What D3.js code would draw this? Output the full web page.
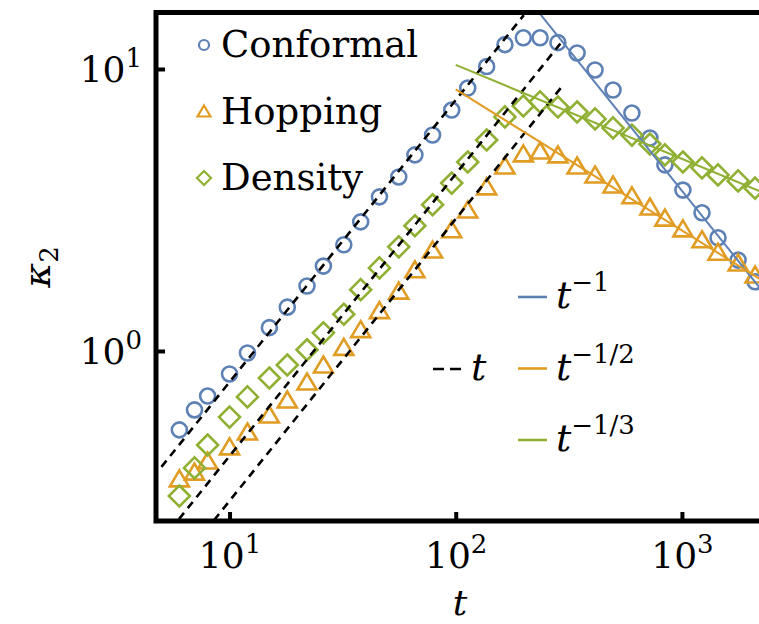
<!DOCTYPE html>
<html>
<head>
<meta charset="utf-8">
<script src="https://cdn.jsdelivr.net/npm/d3@7"></script>
<style>
  body { margin: 0; background: #fff; }
</style>
</head>
<body>
<svg width="759" height="624" font-family="DejaVu Serif"></svg>
<script>
var times = [6, 7, 8, 10, 12, 15, 18, 22, 26, 32, 38, 46, 56, 66, 79, 96, 113, 137, 165,
             199, 236, 283, 344, 413, 496, 601, 722, 841, 1010, 1227, 1444, 1772, 2106];

var conformal = [0.525, 0.618, 0.692, 0.829, 0.984, 1.21, 1.43, 1.70, 2.00, 2.38, 2.87, 3.52,
                 4.14, 4.96, 5.83, 7.15, 8.56, 10.2, 12.2, 12.9, 12.9, 12.4, 11.4, 9.92, 8.42,
                 6.98, 5.69, 4.57, 3.72, 3.09, 2.52, 2.10, 1.76];

var hopping = [0.352, 0.372, 0.407, 0.457, 0.516, 0.593, 0.670, 0.776, 0.892, 1.03, 1.19, 1.39,
               1.63, 1.94, 2.28, 2.69, 3.16, 3.82, 4.53, 5.00, 5.12, 4.96, 4.53, 4.21, 3.88,
               3.55, 3.24, 2.96, 2.71, 2.48, 2.24, 2.05, 1.86];

var density = [0.306, 0.385, 0.464, 0.583, 0.687, 0.802, 0.892, 1.01, 1.16, 1.35, 1.65, 1.97,
               2.34, 2.78, 3.30, 3.94, 4.68, 5.60, 6.76, 7.39, 7.64, 7.33, 7.04, 6.65, 6.18,
               5.83, 5.42, 4.96, 4.68, 4.46, 4.21, 4.01, 3.78];

var seriesNames = ["Conformal", "Hopping", "Density"];

// dashed ~ t guides
var linearCoef = [0.0776, 0.0424, 0.0294];
var linearStart = [5, 5, 5];
var linearEnd = [200, 290, 300];

// solid decay fits
var decayCoef = [3700, 84.6, 48.0];
var decayExp = [-1, -1 / 2, -1 / 3];
var decayStart = [100, 100, 100];
var decayEnd = [2600, 2600, 2600];
var decaySup = ["\u22121", "\u22121/2", "\u22121/3"];

var colors = ["#5E81B5", "#E19C24", "#8FB032"];

var svg = d3.select("svg");

var x = d3.scaleLog().domain([4.73, 2512]).range([156, 772.4]),
    y = d3.scaleLog().domain([0.2495, 15.86]).range([521, 12.5]);

svg.append("clipPath")
    .attr("id", "plot-clip")
  .append("rect")
    .attr("x", 156)
    .attr("y", 12.5)
    .attr("width", 616)
    .attr("height", 508.5);

var plot = svg.append("g").attr("clip-path", "url(#plot-clip)");

var line = d3.line()
    .x(function(d) { return x(d[0]); })
    .y(function(d) { return y(d[1]); });

// markers
var shapes = {
  tri: "M0,-8.5L9.5,7.5L-9.5,7.5Z",
  dia: "M0,-10.5L10.5,0L0,10.5L-10.5,0Z"
};

plot.selectAll(".conformal")
    .data(times)
  .enter().append("circle")
    .attr("class", "conformal")
    .attr("cx", function(d) { return x(d); })
    .attr("cy", function(d, i) { return y(conformal[i]); })
    .attr("r", 7.5)
    .attr("fill", "none")
    .attr("stroke", colors[0])
    .attr("stroke-width", 2.6);

plot.selectAll(".hopping")
    .data(times)
  .enter().append("path")
    .attr("class", "hopping")
    .attr("d", shapes.tri)
    .attr("transform", function(d, i) { return "translate(" + x(d) + "," + y(hopping[i]) + ")"; })
    .attr("fill", "none")
    .attr("stroke", colors[1])
    .attr("stroke-width", 2.6);

plot.selectAll(".density")
    .data(times)
  .enter().append("path")
    .attr("class", "density")
    .attr("d", shapes.dia)
    .attr("transform", function(d, i) { return "translate(" + x(d) + "," + y(density[i]) + ")"; })
    .attr("fill", "none")
    .attr("stroke", colors[2])
    .attr("stroke-width", 2.6);

// guide lines
linearCoef.forEach(function(c, i) {
  plot.append("path")
      .datum([[linearStart[i], c * linearStart[i]], [linearEnd[i], c * linearEnd[i]]])
      .attr("d", line)
      .attr("fill", "none")
      .attr("stroke", "#000")
      .attr("stroke-width", 2.6)
      .attr("stroke-dasharray", "8,6");
});

decayCoef.forEach(function(c, i) {
  var p = decayExp[i];
  plot.append("path")
      .datum([[decayStart[i], c * Math.pow(decayStart[i], p)], [decayEnd[i], c * Math.pow(decayEnd[i], p)]])
      .attr("d", line)
      .attr("fill", "none")
      .attr("stroke", colors[i])
      .attr("stroke-width", 2);
});

// frame
svg.append("rect")
    .attr("x", 156)
    .attr("y", 12.5)
    .attr("width", 616)
    .attr("height", 508.5)
    .attr("fill", "none")
    .attr("stroke", "#000")
    .attr("stroke-width", 5);

// axes: inner ticks only, labels added by hand for the exponents
var xAxis = svg.append("g")
    .attr("transform", "translate(0,521)")
    .call(d3.axisBottom(x).tickValues([10, 100, 1000]).tickSizeInner(-9).tickSizeOuter(0).tickFormat(""));

var yAxis = svg.append("g")
    .attr("transform", "translate(156,0)")
    .call(d3.axisLeft(y).tickValues([1, 10]).tickSizeInner(-9).tickSizeOuter(0).tickFormat(""));

[xAxis, yAxis].forEach(function(a) {
  a.attr("font-family", null);
  a.select(".domain").remove();
  a.selectAll(".tick line").attr("stroke", "#000").attr("stroke-width", 4);
  a.selectAll(".tick text").remove();
});

function powerLabel(sel, exp) {
  sel.append("tspan").text("10");
  sel.append("tspan")
      .attr("dy", -15)
      .attr("font-size", "26px")
      .text(exp);
}

xAxis.selectAll(".tick")
  .append("text")
    .attr("y", 47)
    .attr("text-anchor", "middle")
    .attr("fill", "#000")
    .attr("font-size", "36px")
    .each(function(d) { powerLabel(d3.select(this), Math.round(Math.log10(d))); });

yAxis.selectAll(".tick")
  .append("text")
    .attr("x", -14)
    .attr("y", 13)
    .attr("text-anchor", "end")
    .attr("fill", "#000")
    .attr("font-size", "36px")
    .each(function(d) { powerLabel(d3.select(this), Math.round(Math.log10(d))); });

// axis titles
svg.append("text")
    .attr("x", 460)
    .attr("y", 615)
    .attr("text-anchor", "middle")
    .attr("font-size", "36px")
    .attr("font-style", "italic")
    .text("t");

var ylab = svg.append("text")
    .attr("transform", "translate(50,267) rotate(-90)")
    .attr("text-anchor", "middle")
    .attr("font-size", "38px");
ylab.append("tspan").attr("font-style", "italic").text("\u03ba");
ylab.append("tspan").attr("dy", 8).attr("font-size", "26px").text("2");

// marker legend
var legendMarks = [
  function(g) { g.append("circle").attr("r", 5); },
  function(g) { g.append("path").attr("d", "M0,-6L6.5,5L-6.5,5Z"); },
  function(g) { g.append("path").attr("d", "M0,-7L7,0L0,7L-7,0Z"); }
];

seriesNames.forEach(function(name, i) {
  var base = 57 + i * 66.5;
  var g = svg.append("g")
      .attr("transform", "translate(204," + (base - 12) + ")")
      .attr("fill", "none")
      .attr("stroke", colors[i])
      .attr("stroke-width", 2.2);
  legendMarks[i](g);

  svg.append("text")
      .attr("x", 221)
      .attr("y", base)
      .attr("font-size", "37px")
      .text(name);
});

// fit legend
svg.append("line")
    .attr("x1", 433).attr("x2", 463)
    .attr("y1", 369).attr("y2", 369)
    .attr("stroke", "#000")
    .attr("stroke-width", 2.6)
    .attr("stroke-dasharray", "11,6");

svg.append("text")
    .attr("x", 471)
    .attr("y", 380)
    .attr("font-size", "38px")
    .attr("font-style", "italic")
    .text("t");

decaySup.forEach(function(s, i) {
  var ly = 297 + i * 71.5;
  svg.append("line")
      .attr("x1", 518).attr("x2", 547)
      .attr("y1", ly).attr("y2", ly)
      .attr("stroke", colors[i])
      .attr("stroke-width", 2.6);

  var t = svg.append("text")
      .attr("x", 556)
      .attr("y", ly + 11)
      .attr("font-size", "38px");
  t.append("tspan").attr("font-style", "italic").text("t");
  t.append("tspan").attr("dy", -17).attr("font-size", "26px").text(s);
});
</script>
</body>
</html>
